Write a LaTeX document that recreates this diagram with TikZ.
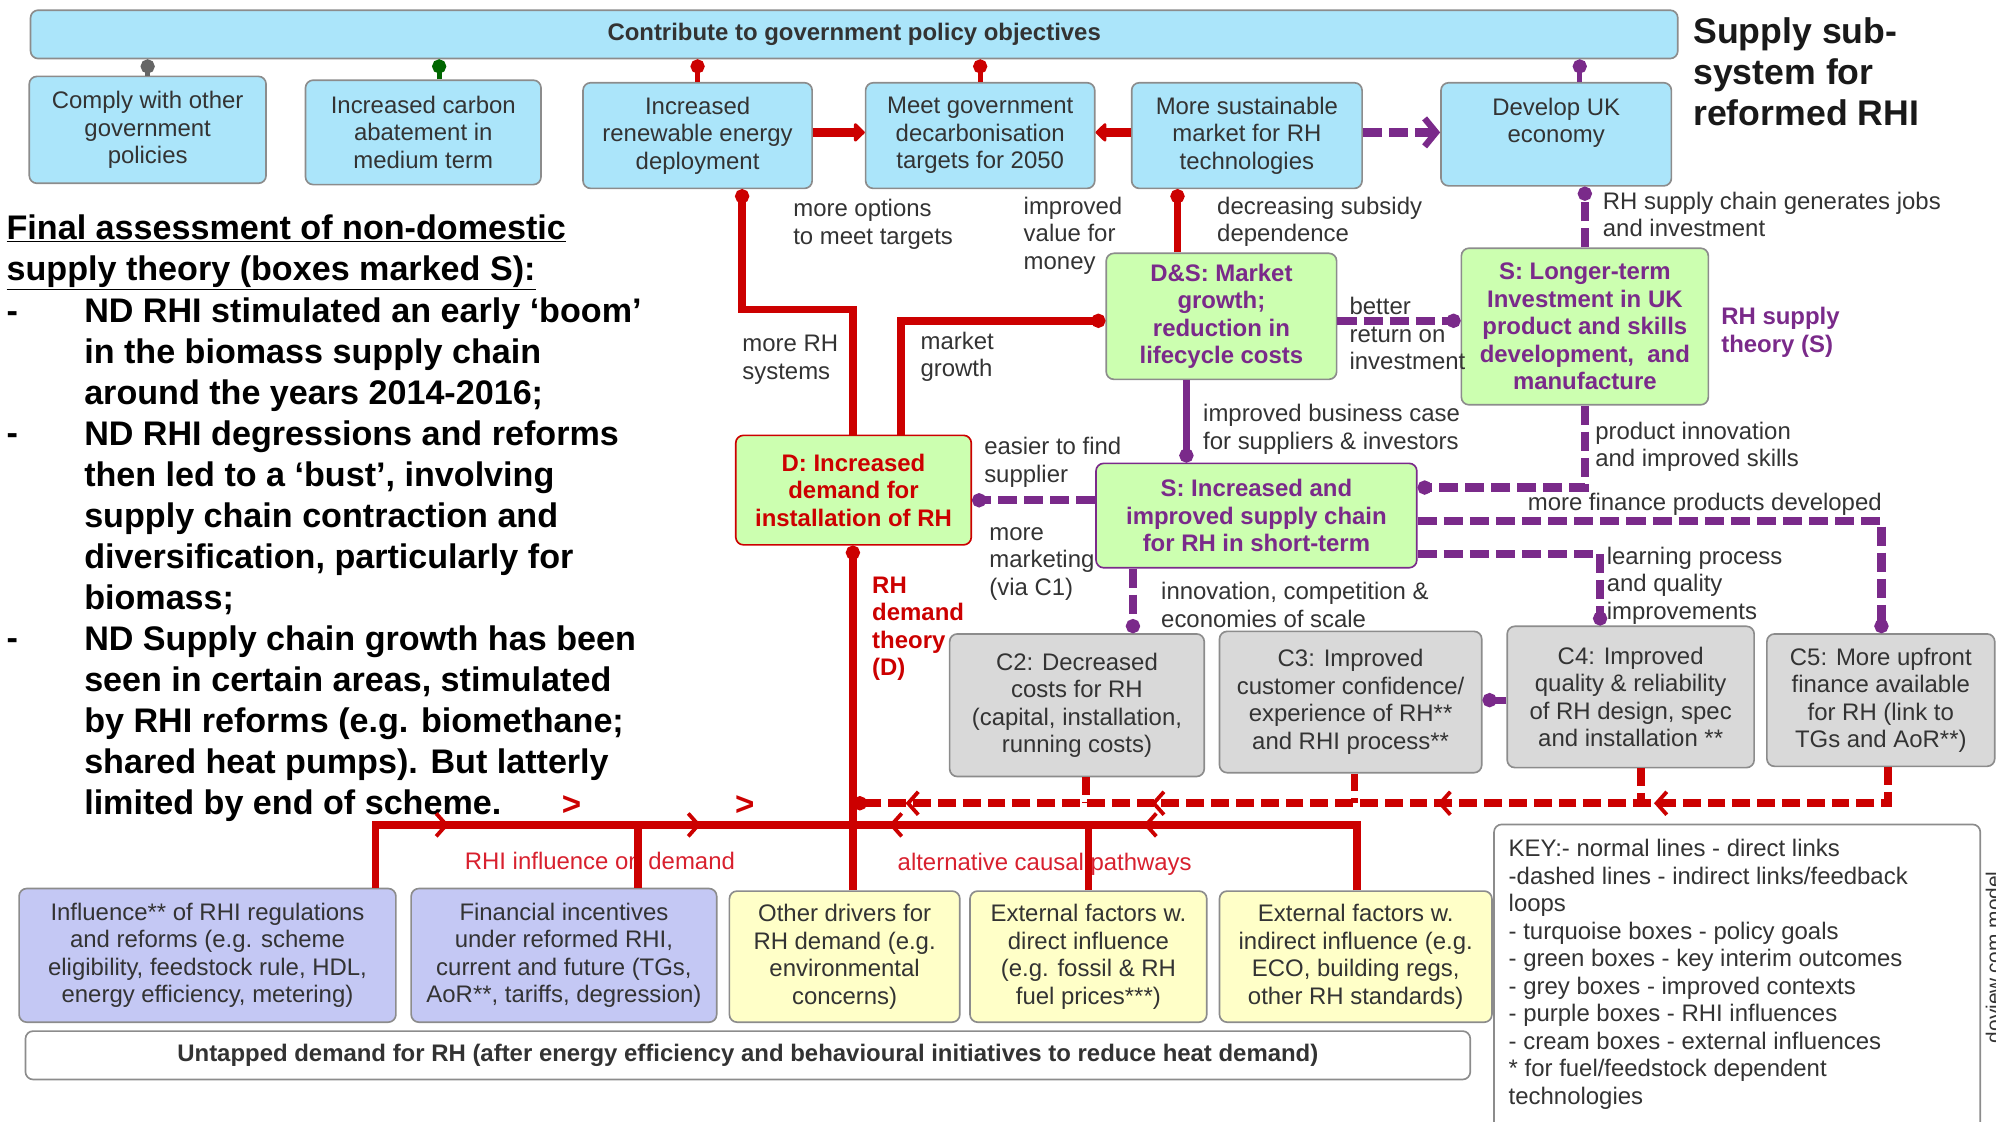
\documentclass[tikz,border=0pt]{standalone}
\usepackage{fontspec}
\setmainfont{Liberation Sans}
\usetikzlibrary{arrows.meta,decorations.markings}

\definecolor{bluefill}{HTML}{ABE5FA}
\definecolor{greenfill}{HTML}{CCFFB0}
\definecolor{greyfill}{HTML}{D9D9D9}
\definecolor{purpfill}{HTML}{C4C8F4}
\definecolor{creamfill}{HTML}{FFFFC8}
\definecolor{redc}{HTML}{CC0000}
\definecolor{purpc}{HTML}{7A2A8A}
\definecolor{txt}{HTML}{333333}
\definecolor{edge}{HTML}{8C8C8C}
\definecolor{dgreen}{HTML}{006600}
\definecolor{lblred}{HTML}{D8202E}

\newcommand\fsn{\fontsize{18.8}{21.6}\selectfont}
\newcommand\fsbig{\fontsize{26.8}{32.2}\selectfont}
\newcommand\fstitle{\fontsize{28}{32}\selectfont}

\newcommand\mkbox[7]{\node[#6, minimum width={#4-#2}, minimum height={#5-#3}] (#1) at ({(#2+#4)/2},{(#3+#5)/2}) {#7};}
\newcommand\lab[5][]{\node[lbl,#1] (#2) at (#3,{#4-9.1}) {\strut #5};}

\tikzset{
  bbox/.style={draw=edge, line width=1.3pt, rounded corners=6pt, align=center, inner sep=0pt, font=\fsn, text=txt},
  tbox/.style={bbox, fill=bluefill},
  gbox/.style={bbox, fill=greyfill},
  pbox/.style={bbox, fill=purpfill},
  cbox/.style={bbox, fill=creamfill},
  lbl/.style={anchor=north west, align=left, inner sep=0pt, font=\fsn, text=txt},
  chevtip/.tip={Straight Barb[length=8pt,width=18pt,line width=3pt]},
  chev/.style={postaction={decorate,decoration={markings,#1}}},
  redl/.style={draw=redc, line width=6pt},
  redd/.style={draw=redc, line width=6pt, dash pattern=on 14pt off 5.5pt},
  purl/.style={draw=purpc, line width=5.5pt},
  purd/.style={draw=purpc, line width=6.5pt, dash pattern=on 15pt off 5.5pt},
  dot/.style={-{Circle[length=11pt,width=11pt]}},
  topcon/.style={line width=4pt, -{Circle[length=11pt,width=11pt]}},
  bigarrow/.style={draw=redc, line width=7pt, -{Triangle[length=9pt,width=17pt,round]}},
}

\begin{document}
\begin{tikzpicture}[x=1pt,y=-1pt]
\useasboundingbox (0,0) rectangle (1568,881);

% helper coordinates
\coordinate (k295) at (295,0);
\coordinate (k345) at (345,0);
\coordinate (k501) at (501,0);
\coordinate (k583) at (583,0);
\coordinate (k670) at (670,0);
\coordinate (k708) at (708,0);
\coordinate (k853) at (853,0);
\coordinate (k855) at (855,0);
\coordinate (k890) at (890,0);
\coordinate (k925) at (925,0);
\coordinate (k932) at (932,0);
\coordinate (k1064) at (1064,0);
\coordinate (k1066) at (1066,0);
\coordinate (k1241) at (1241,0);
\coordinate (k1245) at (1245,0);
\coordinate (k1257) at (1257,0);
\coordinate (k1289) at (1289,0);
\coordinate (k1478) at (1478,0);
\coordinate (k1483) at (1483,0);
\coordinate (y104) at (0,104);
\coordinate (y243) at (0,243);
\coordinate (y252) at (0,252);
\coordinate (y383) at (0,383);
\coordinate (y393) at (0,393);
\coordinate (y409) at (0,409);
\coordinate (y435) at (0,435);
\coordinate (y550) at (0,550);
\coordinate (y631) at (0,631);
\coordinate (y648) at (0,648);

% ---------- boxes ----------
\mkbox{bar}{24}{8}{1318}{46}{tbox, font=\fsn\bfseries}{Contribute to government policy objectives}
\mkbox{comply}{23}{60}{209}{144}{tbox}{Comply with other\\government\\policies}
\mkbox{carbon}{240}{63}{425}{145}{tbox}{Increased carbon\\abatement in\\medium term}
\mkbox{renew}{458}{65}{638}{148}{tbox}{Increased\\renewable energy\\deployment}
\mkbox{meet}{680}{65}{860}{148}{tbox}{Meet government\\decarbonisation\\targets for 2050}
\mkbox{sust}{889}{65}{1070}{148}{tbox}{More sustainable\\market for RH\\technologies}
\mkbox{dev}{1132}{65}{1313}{146}{tbox}{Develop UK\\economy\\\mbox{}}

\mkbox{DS}{869}{199}{1050}{298}{bbox, fill=greenfill, text=purpc, font=\fsn\bfseries}{D\&S: Market\\growth;\\reduction in\\lifecycle costs}
\mkbox{SL}{1148}{195}{1342}{318}{bbox, fill=greenfill, text=purpc, font=\fsn\bfseries}{S: Longer-term\\Investment in UK\\product and skills\\development,~ and\\manufacture}
\mkbox{D}{578}{342}{763}{428}{bbox, draw=redc, fill=greenfill, text=redc, font=\fsn\bfseries}{D: Increased\\demand for\\installation of RH}
\mkbox{SI}{861}{364}{1113}{446}{bbox, draw=purpc, fill=greenfill, text=purpc, font=\fsn\bfseries}{S: Increased and\\improved supply chain\\for RH in short-term}

\mkbox{C2}{746}{498}{946}{610}{gbox}{C2: Decreased\\costs for RH\\(capital, installation,\\running costs)}
\mkbox{C3}{958}{496}{1164}{607}{gbox}{C3: Improved\\customer confidence/\\experience of RH**\\and RHI process**}
\mkbox{C4}{1184}{492}{1378}{603}{gbox}{C4: Improved\\quality \& reliability\\of RH design, spec\\and installation **}
\mkbox{C5}{1388}{498}{1567}{602}{gbox}{C5: More upfront\\finance available\\for RH (link to\\TGs and AoR**)}

\mkbox{B1}{15}{698}{311}{803}{pbox}{Influence** of RHI regulations\\and reforms (e.g. scheme\\eligibility, feedstock rule, HDL,\\energy efficiency, metering)}
\mkbox{B2}{323}{698}{563}{803}{pbox}{Financial incentives\\under reformed RHI,\\current and future (TGs,\\AoR**, tariffs, degression)}
\mkbox{B3}{573}{700}{754}{803}{cbox}{Other drivers for\\RH demand (e.g.\\environmental\\concerns)}
\mkbox{B4}{762}{700}{948}{803}{cbox}{External factors w.\\direct influence\\(e.g. fossil \& RH\\fuel prices***)}
\mkbox{B5}{958}{700}{1172}{803}{cbox}{External factors w.\\indirect influence (e.g.\\ECO, building regs,\\other RH standards)}
\mkbox{UD}{20}{810}{1155}{848}{bbox, fill=white, font=\fsn\bfseries}{Untapped demand for RH (after energy efficiency and behavioural initiatives to reduce heat demand)}

% key
\node[draw=edge, line width=1.3pt, rounded corners=6pt, fill=white, minimum width=382, minimum height=260, anchor=north west, inner sep=0pt] (key) at (1173,647) {};
\node[lbl] (keytext) at (1185,657.9) {\strut KEY:- normal lines - direct links\\-dashed lines - indirect links/feedback\\loops\\- turquoise boxes - policy goals\\- green boxes - key interim outcomes\\- grey boxes - improved contexts\\- purple boxes - RHI influences\\- cream boxes - external influences\\* for fuel/feedstock dependent\\technologies};
\node[rotate=90, font=\fontsize{16.4}{18}\selectfont, text=txt, inner sep=0pt] (doview) at (1566,752) {doview.com model};

% ---------- free texts ----------
\node[lbl, font=\fstitle\bfseries, text=black!90] (title) at (1330,11.6) {\strut Supply sub-\\system for\\reformed RHI};
\node[lbl, font=\fsbig\bfseries, text=black] (head) at (5,165.5) {\strut\underline{Final assessment of non-domestic}\\\underline{supply theory (boxes marked S):}};
\node[lbl, font=\fsbig\bfseries, text=black] (dash1) at (5,230.5) {\strut -};
\node[lbl, font=\fsbig\bfseries, text=black] (dash2) at (5,326.5) {\strut -};
\node[lbl, font=\fsbig\bfseries, text=black] (dash3) at (5,487.5) {\strut -};
\node[lbl, font=\fsbig\bfseries, text=black] (body) at (66,230.5) {\strut ND RHI stimulated an early ‘boom’\\in the biomass supply chain\\around the years 2014-2016;\\ND RHI degressions and reforms\\then led to a ‘bust’, involving\\supply chain contraction and\\diversification, particularly for\\biomass;\\ND Supply chain growth has been\\seen in certain areas, stimulated\\by RHI reforms (e.g. biomethane;\\shared heat pumps). But latterly\\limited by end of scheme.};
\node[text=redc, font=\fontsize{26}{28}\selectfont\bfseries, inner sep=0pt] (gt1) at (449,633) {>};
\node[text=redc, font=\fontsize{26}{28}\selectfont\bfseries, inner sep=0pt] (gt2) at (585,633) {>};

% ---------- labels ----------
\lab{l1}{623}{164}{more options\\to meet targets}
\lab{l2}{804}{162}{improved\\value for\\money}
\lab{l3}{956}{162}{decreasing subsidy\\dependence}
\lab{l4}{1259}{158}{RH supply chain generates jobs\\and investment}
\lab{l5}{583}{270}{more RH\\systems}
\lab{l6}{723}{268}{market\\growth}
\lab{l7}{1060}{241}{better\\return on\\investment}
\lab{l8}{945}{325}{improved business case\\for suppliers \& investors}
\lab{l9}{1253}{339}{product innovation\\and improved skills}
\lab{l10}{773}{351}{easier to find\\supplier}
\lab{l11}{1200}{395}{more finance products developed}
\lab{l12}{777}{418}{more\\marketing\\(via C1)}
\lab{l13}{1262}{437}{learning process\\and quality\\improvements}
\lab{l14}{912}{465}{innovation, competition \&\\economies of scale}
\lab[text=redc, font=\fsn\bfseries]{l15}{685}{460}{RH\\demand\\theory\\(D)}
\lab[text=purpc, font=\fsn\bfseries]{l16}{1352}{249}{RH supply\\theory (S)}
\lab[text=lblred]{l17}{365}{677}{RHI influence on demand}
\lab[text=lblred]{l18}{705}{678}{alternative causal pathways}

% ---------- connectors to the policy bar ----------
\draw[topcon, draw=black!60] (comply.north) -- (comply.north |- bar.south);
\draw[topcon, draw=dgreen] (carbon.north -| k345) -- (bar.south -| k345);
\draw[topcon, draw=redc] (renew.north) -- (renew.north |- bar.south);
\draw[topcon, draw=redc] (meet.north) -- (meet.north |- bar.south);
\draw[topcon, draw=purpc] (dev.north -| k1241) -- (bar.south -| k1241);

% top row arrows
\draw[bigarrow] (renew.east |- y104) -- (meet.west |- y104);
\draw[bigarrow] (sust.west |- y104) -- (meet.east |- y104);
\draw[purd, -{Straight Barb[length=9pt,width=22pt,line width=5pt]}] (sust.east |- y104) -- (dev.west |- y104);

% red demand links
\draw[redl, dot] (D.north -| k670) |- (k583 |- y243) -- (renew.south -| k583);
\draw[redl, dot] (D.north -| k708) |- (DS.west |- y252);
\draw[redl, dot] (DS.north -| k925) -- (sust.south -| k925);
\draw[redl, dot] (B3.north -| k670) -- (D.south -| k670);

% red bar from bottom boxes
\draw[redl, chev={mark=at position 107pt with {\arrow{chevtip}}, mark=at position 305pt with {\arrow{chevtip}}}] (B1.north -| k295) |- (k670 |- y648);
\draw[redl] (B2.north -| k501) -- (k501 |- y648);
\draw[redl, chev={mark=at position 219pt with {\arrow{chevtip}}, mark=at position 419pt with {\arrow{chevtip}}}] (B5.north -| k1066) |- (k670 |- y648);
\draw[redl] (B4.north -| k855) -- (k855 |- y648);

% red dashed feedback from contexts
\draw[redd, dot, chev={mark=at position 212pt with {\arrow{chevtip}}, mark=at position 382pt with {\arrow{chevtip}}, mark=at position 607pt with {\arrow{chevtip}}, mark=at position 800pt with {\arrow{chevtip}}}] (C5.south -| k1483) |- (k670 |- y631);
\draw[redd] (C2.south -| k853) -- (k853 |- y631);
\draw[redd] (C3.south -| k1064) -- (k1064 |- y631);
\draw[redd] (C4.south -| k1289) -- (k1289 |- y631);

% purple supply links
\draw[purl, dot] (DS.south -| k932) -- (SI.north -| k932);
\draw[purd, dot] (DS.east |- y252) -- (SL.west |- y252);
\draw[purd, dot] (SL.north -| k1245) -- (dev.south -| k1245);
\draw[purd, dot] (SL.south -| k1245) |- (SI.east |- y383);
\draw[purd, dot] (SI.west |- y393) -- (D.east |- y393);
\draw[purd, dot] (SI.east |- y409) -| (C5.north -| k1478);
\draw[purd, dot] (SI.east |- y435) -| (C4.north -| k1257);
\draw[purd, dot] (SI.south -| k890) -- (C2.north -| k890);
\draw[purl, dot] (C4.west |- y550) -- (C3.east |- y550);

\end{tikzpicture}
\end{document}
